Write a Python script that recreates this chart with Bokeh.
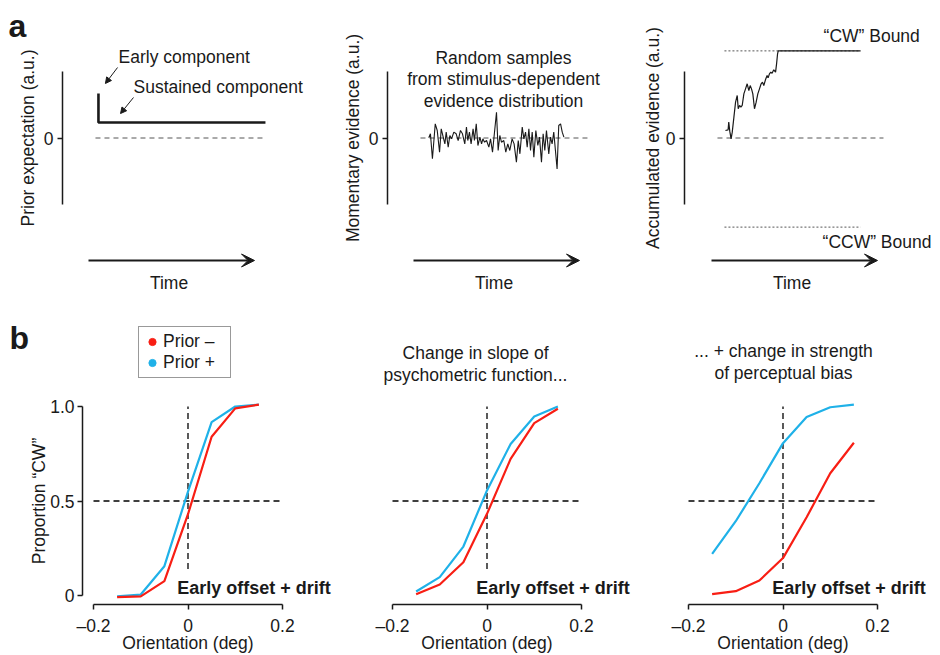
import math
from bokeh.plotting import figure
from bokeh.layouts import column, row
from bokeh.models import (Range1d, FixedTicker, Label, Arrow, VeeHead, NormalHead,
                          Legend, LegendItem, LinearAxis)
from bokeh.embed import file_html
from bokeh.resources import INLINE

# ------------------------------------------------------------------ data
# panel a1: prior expectation (early + sustained component)
prior_time = [0.06, 0.06, 1.066]
prior_value = [0.67, 0.233, 0.233]

# panel a2: momentary evidence samples
noise_time = [0.092, 0.102, 0.114, 0.131, 0.143, 0.157, 0.167, 0.179, 0.189, 0.197,
              0.209, 0.219, 0.229, 0.243, 0.257, 0.269, 0.283, 0.295, 0.309, 0.319,
              0.327, 0.337, 0.347, 0.359, 0.367, 0.378, 0.388, 0.400, 0.410, 0.418,
              0.428, 0.440, 0.454, 0.464, 0.476, 0.500, 0.510, 0.520, 0.530, 0.544,
              0.556, 0.568, 0.580, 0.594, 0.606, 0.620, 0.631, 0.641, 0.655, 0.665,
              0.675, 0.685, 0.695, 0.705, 0.715, 0.725, 0.737, 0.749, 0.759, 0.771,
              0.781, 0.791, 0.801, 0.815, 0.825, 0.835, 0.845, 0.855, 0.865, 0.875,
              0.886, 0.896, 0.906]
noise_value = [0.003, 0.063, -0.313, 0.213, 0.113, -0.213, 0.138, 0.013, -0.088, 0.088,
               -0.138, 0.038, -0.013, 0.088, 0.063, -0.038, 0.113, 0.063, -0.088, 0.163,
               -0.038, 0.088, -0.088, 0.138, -0.038, 0.213, -0.113, 0.013, -0.088, -0.013,
               -0.063, -0.038, -0.138, -0.013, -0.213, 0.388, -0.188, 0.038, -0.063, -0.038,
               -0.213, -0.088, -0.188, -0.013, -0.088, -0.363, -0.038, -0.238, 0.163, -0.013,
               0.088, -0.138, 0.138, -0.188, 0.088, -0.288, 0.113, -0.113, 0.013, -0.363,
               0.063, -0.188, 0.113, -0.238, 0.013, -0.088, 0.088, -0.188, -0.464, 0.188,
               0.213, 0.088, 0.013]

# panel a3: accumulated evidence until the "CW" bound
accum_time = [0.084, 0.100, 0.104, 0.110, 0.118, 0.125, 0.135, 0.145, 0.155, 0.161,
              0.169, 0.177, 0.185, 0.195, 0.205, 0.215, 0.225, 0.233, 0.241, 0.249,
              0.259, 0.269, 0.279, 0.289, 0.299, 0.307, 0.315, 0.325, 0.335, 0.341,
              0.349, 0.357, 0.365, 0.375, 0.386, 0.392, 0.398, 0.402, 0.898]
accum_value = [0.113, 0.123, 0.238, 0.103, -0.013, 0.088, 0.313, 0.539, 0.639, 0.439,
               0.489, 0.464, 0.489, 0.664, 0.739, 0.815, 0.714, 0.789, 0.739, 0.664,
               0.439, 0.539, 0.664, 0.739, 0.815, 0.840, 0.789, 0.875, 0.940, 0.905,
               0.965, 0.990, 0.975, 1.025, 0.990, 1.115, 1.266, 1.31, 1.31]
cw_bound = 1.31
ccw_bound = -1.34
bound_time = [0.078, 0.898]

# panel b: psychometric functions
orientation = [-0.15, -0.10, -0.05, 0.0, 0.05, 0.10, 0.15]
b1_prior_minus = [-0.009, -0.005, 0.076, 0.43, 0.84, 0.99, 1.01]
b1_prior_plus = [-0.004, 0.005, 0.155, 0.55, 0.917, 1.0, 1.01]
b2_prior_minus = [0.007, 0.058, 0.176, 0.432, 0.723, 0.912, 0.988]
b2_prior_plus = [0.021, 0.097, 0.259, 0.556, 0.802, 0.947, 1.0]
b3_prior_minus = [0.007, 0.023, 0.079, 0.198, 0.414, 0.647, 0.808]
b3_prior_plus = [0.22, 0.393, 0.594, 0.806, 0.944, 0.996, 1.01]

x_ticks = [-0.2, 0.0, 0.2]
x_tick_labels = {-0.2: "\u20130.2", 0.0: "0", 0.2: "0.2"}
y_ticks = [0.0, 0.5, 1.0]
y_tick_labels = {0.0: "0", 0.5: "0.5", 1.0: "1.0"}

# ------------------------------------------------------------------ style
FONT = "Liberation Sans"
FS = "17.5px"
INK = "#1a1a1a"
GREY = "#555555"
RED = "#f81e14"
BLUE = "#1fb1e8"
UP = math.pi / 2


def base_fig(width, height, xr, yr):
    p = figure(width=width, height=height, x_range=Range1d(*xr), y_range=Range1d(*yr),
               x_axis_location=None, y_axis_location=None,
               toolbar_location=None, output_backend="svg",
               min_border_left=0, min_border_right=0,
               min_border_top=0, min_border_bottom=0)
    p.grid.visible = False
    p.outline_line_color = None
    p.background_fill_color = "white"
    p.border_fill_color = "white"
    return p


def style_axis(ax, tick_standoff):
    ax.axis_line_width = 1.5
    ax.axis_line_color = INK
    ax.major_tick_line_width = 1.5
    ax.major_tick_line_color = INK
    ax.major_tick_out = 5
    ax.major_tick_in = 0
    ax.minor_tick_out = 0
    ax.minor_tick_in = 0
    ax.major_label_standoff = tick_standoff
    ax.major_label_text_font = FONT
    ax.major_label_text_font_size = FS
    ax.major_label_text_color = INK
    return ax


def text(p, x, y, s, align="left", size=FS, style="normal", baseline="middle", angle=0):
    p.add_layout(Label(x=x, y=y, text=s, text_font=FONT, text_font_size=size,
                       text_font_style=style, text_color=INK, angle=angle,
                       text_align=align, text_baseline=baseline))


# ------------------------------------------------------------------ row a
# time axis: 166 px per unit, evidence axis: 66.5 px per unit (0 at y=137.5 px)
TOP_H = 300
YR_TOP = (-(TOP_H - 137.5) / 66.5, 137.5 / 66.5)
TIME_Y = -1.842
TIME_LABEL_Y = -2.173


def top_panel(width, xr, axis_x, ylabel, ylabel_x, zero_span):
    p = base_fig(width, TOP_H, xr, YR_TOP)
    ax = LinearAxis(bounds=(-1, 1), ticker=FixedTicker(ticks=[0], minor_ticks=[]),
                    major_label_overrides={0: "0"}, fixed_location=axis_x)
    style_axis(ax, 4)
    p.add_layout(ax, "left")
    text(p, ylabel_x, 0, ylabel, align="center", angle=UP)
    p.line(zero_span, [0, 0], line_color=GREY, line_width=1, line_dash="5 4")
    p.add_layout(Arrow(end=VeeHead(size=13, fill_color=INK, line_color=INK, line_width=1),
                       x_start=0, y_start=TIME_Y, x_end=1, y_end=TIME_Y,
                       line_width=2, line_color=INK))
    text(p, 0.485, TIME_LABEL_Y, "Time", align="center")
    return p


a1 = top_panel(330, (-88 / 166, 242 / 166), -26 / 166, "Prior expectation (a.u.)",
               -0.367, [0.042, 1.054])
a1.line(prior_time, prior_value, line_color=INK, line_width=2.6)
text(a1, 0.181, 1.211, "Early component")
text(a1, 0.271, 0.774, "Sustained component")
small_head = dict(size=6, fill_color=INK, line_color=INK, line_width=1)
a1.add_layout(Arrow(end=NormalHead(**small_head), x_start=0.175, y_start=1.06,
                    x_end=0.102, y_end=0.82, line_width=1, line_color=INK))
a1.add_layout(Arrow(end=NormalHead(**small_head), x_start=0.271, y_start=0.609,
                    x_end=0.193, y_end=0.368, line_width=1, line_color=INK))
text(a1, -0.482, 1.677, "a", size="32px", style="bold", baseline="alphabetic")

a2 = top_panel(298, (-83 / 166, 215 / 166), -26 / 166, "Momentary evidence (a.u.)",
               -0.367, [0.042, 1.048])
a2.line(noise_time, noise_value, line_color=INK, line_width=1.1)
text(a2, 0.542, 1.21, "Random samples", align="center")
text(a2, 0.542, 0.88, "from stimulus-dependent", align="center")
text(a2, 0.542, 0.55, "evidence distribution", align="center")

a3 = top_panel(310, (-83 / 166, 227 / 166), -27 / 166, "Accumulated evidence (a.u.)",
               -0.355, [0.036, 1.036])
a3.line(bound_time, [cw_bound, cw_bound], line_color=GREY, line_width=1, line_dash="2 2")
a3.line(bound_time, [ccw_bound, ccw_bound], line_color=GREY, line_width=1, line_dash="2 2")
a3.line(accum_time, accum_value, line_color=INK, line_width=1.2)
text(a3, 0.675, 1.541, "\u201cCW\u201d Bound")
text(a3, 0.669, -1.571, "\u201cCCW\u201d Bound")

# ------------------------------------------------------------------ row b
# orientation: 472.5 px per unit (-0.2 at axis start), proportion: 189 px per unit (0 at y=595)
BOT_H = 354
YR_BOT = (-(BOT_H - 295) / 189, 295 / 189)
X_AXIS_Y = -9 / 189


def bottom_panel(width, xr, minus, plus):
    p = base_fig(width, BOT_H, xr, YR_BOT)
    ax = LinearAxis(bounds=(-0.2, 0.2), ticker=FixedTicker(ticks=x_ticks, minor_ticks=[]),
                    major_label_overrides=x_tick_labels, fixed_location=X_AXIS_Y)
    style_axis(ax, 6)
    p.add_layout(ax, "below")
    text(p, 0, -0.2513, "Orientation (deg)", align="center")
    p.line([0, 0], [0.14, 1.0], line_color="#000000", line_width=1.3, line_dash="6 4")
    p.line([-0.2, 0.2], [0.5, 0.5], line_color="#000000", line_width=1.3, line_dash="6 4")
    r_plus = p.line(orientation, plus, line_color=BLUE, line_width=2.2)
    r_minus = p.line(orientation, minus, line_color=RED, line_width=2.2)
    text(p, 0.302, 0.0423, "Early offset + drift", align="right", size="18px", style="bold")
    return p, r_minus, r_plus


b1, _, _ = bottom_panel(340, (-0.2 - 93 / 472.5, -0.2 + 247 / 472.5),
                        b1_prior_minus, b1_prior_plus)
yax = LinearAxis(bounds=(0, 1), ticker=FixedTicker(ticks=y_ticks, minor_ticks=[]),
                 major_label_overrides=y_tick_labels, fixed_location=-0.2 - 11 / 472.5)
style_axis(yax, 3)
b1.add_layout(yax, "left")
text(b1, -0.3164, 0.5, "Proportion \u201cCW\u201d", align="center", angle=UP)

# legend swatches: zero-size dot markers on the two series (the legend sizes its own dots)
dot_minus = b1.scatter(orientation, b1_prior_minus, size=0, color=RED)
dot_plus = b1.scatter(orientation, b1_prior_plus, size=0, color=BLUE)
legend = Legend(items=[LegendItem(label="Prior \u2013", renderers=[dot_minus]),
                       LegendItem(label="Prior +", renderers=[dot_plus])],
                location=(138, BOT_H - 78), margin=0, padding=4, spacing=0,
                glyph_width=18, glyph_height=21, label_standoff=2, label_width=63,
                label_height=21, label_text_font=FONT, label_text_font_size=FS,
                label_text_color=INK, border_line_color="#333333", border_line_width=1,
                background_fill_color="white", background_fill_alpha=1.0)
b1.add_layout(legend)
text(b1, -0.3778, 1.365, "b", size="32px", style="bold", baseline="alphabetic")

b2, _, _ = bottom_panel(296, (-0.2 - 52 / 472.5, -0.2 + 244 / 472.5),
                        b2_prior_minus, b2_prior_plus)
text(b2, -0.0243, 1.2857, "Change in slope of", align="center")
text(b2, -0.0243, 1.169, "psychometric function...", align="center")

b3, _, _ = bottom_panel(302, (-0.2 - 52 / 472.5, -0.2 + 250 / 472.5),
                        b3_prior_minus, b3_prior_plus)
text(b3, 0.001, 1.296, "... + change in strength", align="center")
text(b3, 0.001, 1.175, "of perceptual bias", align="center")

layout = column(row(a1, a2, a3), row(b1, b2, b3))
open("out.html", "w").write(file_html(layout, INLINE))
